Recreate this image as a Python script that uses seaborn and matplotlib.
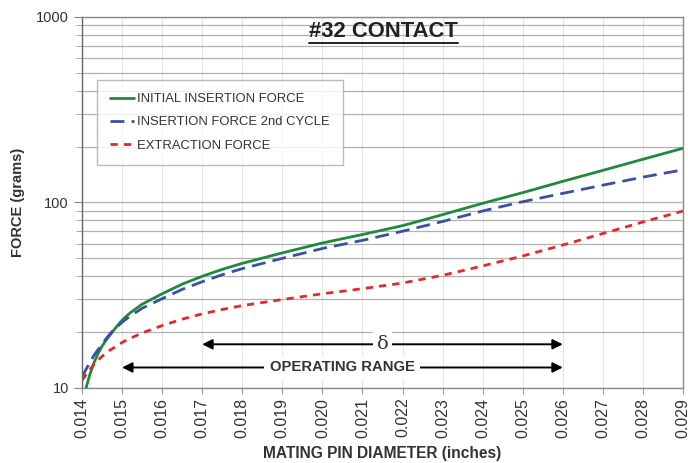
import numpy as np
import pandas as pd
import matplotlib
matplotlib.use("Agg")
import matplotlib.pyplot as plt
from matplotlib.ticker import FixedLocator, FixedFormatter, NullFormatter
from matplotlib.lines import Line2D
import seaborn as sns

# pin diameter (inches)
diameter = [0.0140, 0.0141, 0.0142, 0.0143, 0.0144, 0.0145, 0.0146, 0.0147,
            0.0148, 0.0150, 0.0152, 0.0155, 0.0160, 0.0165, 0.0170, 0.0175,
            0.0180, 0.0190, 0.0200, 0.0210, 0.0220, 0.0230, 0.0240, 0.0250,
            0.0260, 0.0270, 0.0280, 0.0290]

# force (grams)
initial_insertion = [8.0, 10.0, 11.9, 13.7, 15.3, 16.8, 18.1, 19.3,
                     20.6, 23.2, 25.4, 28.3, 32.2, 36.3, 40.0, 43.6,
                     47.0, 53.5, 60.5, 67.2, 75.0, 86.0, 99.0, 113.0,
                     130.0, 149.0, 171.0, 196.0]
insertion_2nd = [11.4, 12.6, 13.8, 15.0, 16.1, 17.2, 18.4, 19.6,
                 20.7, 22.6, 24.4, 26.9, 30.3, 34.0, 37.4, 40.8,
                 44.0, 50.0, 56.5, 62.5, 70.0, 79.0, 90.0, 101.0,
                 112.0, 124.0, 137.0, 150.0]
extraction = [11.0, 11.8, 12.6, 13.4, 14.1, 14.8, 15.4, 16.0,
              16.5, 17.6, 18.5, 19.8, 21.7, 23.5, 25.1, 26.5,
              27.8, 30.0, 32.2, 34.3, 36.8, 40.5, 45.5, 51.5,
              59.0, 68.0, 78.5, 90.0]

series_names = ["INITIAL INSERTION FORCE", "INSERTION FORCE 2nd CYCLE", "EXTRACTION FORCE"]
x_ticks = [0.014, 0.015, 0.016, 0.017, 0.018, 0.019, 0.020, 0.021,
           0.022, 0.023, 0.024, 0.025, 0.026, 0.027, 0.028, 0.029]
y_major = [10, 100, 1000]
y_minor = [20, 30, 40, 50, 60, 70, 80, 90, 200, 300, 400, 500, 600, 700, 800, 900]

# ranges for the arrows (inches)
delta_range = (0.017, 0.026)
operating_range = (0.015, 0.026)

sns.set_style("white")
plt.rcParams["font.family"] = ["Liberation Sans", "DejaVu Sans"]

fig = plt.figure(figsize=(6.88, 4.63), dpi=100)
ax = fig.add_axes([0.1192, 0.162, 0.8735, 0.8013])

styles = [
    dict(color="#1e8a3c", linestyle="-"),
    dict(color="#3a4fa6", linestyle=(0, (5, 2.6))),
    dict(color="#e8262b", linestyle=(0, (2.6, 2.2))),
]
for name, vals, st in zip(series_names, [initial_insertion, insertion_2nd, extraction], styles):
    df = pd.DataFrame({"d": diameter, "f": vals})
    sns.lineplot(data=df, x="d", y="f", ax=ax, label=name, linewidth=2.0, **st)

ax.set_yscale("log")
ax.set_xlim(0.014, 0.029)
ax.set_ylim(10, 1000)

ax.xaxis.set_major_locator(FixedLocator(x_ticks))
ax.set_xticklabels([f"{t:.3f}" for t in x_ticks], rotation=90, fontsize=11.5, color="#333333")
ax.yaxis.set_major_locator(FixedLocator(y_major))
ax.yaxis.set_major_formatter(FixedFormatter([str(v) for v in y_major]))
ax.yaxis.set_minor_locator(FixedLocator(y_minor))
ax.yaxis.set_minor_formatter(NullFormatter())
ax.tick_params(axis="y", which="major", labelsize=10.5, labelcolor="#333333",
               length=6, color="#888888", left=True)
ax.tick_params(axis="y", which="minor", length=4, color="#999999", left=True)
ax.tick_params(axis="x", which="major", length=4, color="#999999", bottom=True, pad=3)

ax.grid(True, axis="y", which="both", color="#b0b0b0", linewidth=0.9)
ax.grid(True, axis="x", which="major", color="#e4e4e4", linewidth=0.8)
ax.set_axisbelow(True)
for side in ["left", "right", "top", "bottom"]:
    ax.spines[side].set_color("#8a8a8a")
    ax.spines[side].set_linewidth(1.0)
ax.spines["left"].set_color("#666666")

ax.set_xlabel("MATING PIN DIAMETER (inches)", fontsize=11.2, fontweight="bold",
              color="#333333", labelpad=6)
ax.set_ylabel("FORCE (grams)", fontsize=10.5, fontweight="bold", color="#333333", labelpad=8)

leg = ax.legend(loc="upper left", bbox_to_anchor=(0.025, 0.83), fontsize=9.4,
                frameon=True, fancybox=False, handlelength=1.8, handletextpad=0.25,
                borderpad=1.0, borderaxespad=0, labelspacing=0.85)
leg.get_frame().set_edgecolor("#aaaaaa")
leg.get_frame().set_linewidth(1.0)
for t in leg.get_texts():
    t.set_color("#333333")

# double arrows with labels
arrow_kw = dict(arrowstyle="<|-|>", color="black", lw=1.4, mutation_scale=15,
                shrinkA=0, shrinkB=0)
ax.annotate("", xy=(delta_range[0], 17.2), xytext=(delta_range[1], 17.2), arrowprops=arrow_kw)
ax.annotate("", xy=(operating_range[0], 12.9), xytext=(operating_range[1], 12.9), arrowprops=arrow_kw)
ax.text(sum(delta_range) / 2, 17.2, "δ", ha="center", va="center", fontsize=14,
        color="#333333", family=["DejaVu Serif"],
        bbox=dict(facecolor="white", edgecolor="none", pad=3))
ax.text(sum(operating_range) / 2, 12.9, "OPERATING RANGE", ha="center", va="center",
        fontsize=10.7, fontweight="bold", color="#333333",
        bbox=dict(facecolor="white", edgecolor="none", pad=4))

title = ax.text(0.502, 0.962, "#32 CONTACT", transform=ax.transAxes, ha="center",
                va="center", fontsize=15.8, fontweight="bold", color="#222222")
fig.canvas.draw()
bb = title.get_window_extent()
fw, fh = fig.bbox.width, fig.bbox.height
fig.add_artist(Line2D([bb.x0 / fw, bb.x1 / fw], [(bb.y0 - 1) / fh, (bb.y0 - 1) / fh],
                      color="#222222", linewidth=1.4, transform=fig.transFigure))

fig.savefig("out.png", dpi=100)
